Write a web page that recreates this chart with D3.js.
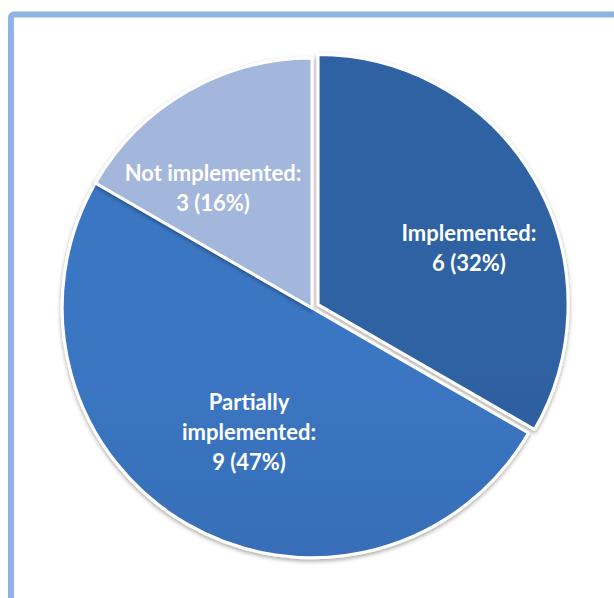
<!DOCTYPE html>
<html>
<head>
<meta charset="utf-8">
<script src="https://cdn.jsdelivr.net/npm/d3@7"></script>
<style>
  html, body { margin: 0; padding: 0; background: #ffffff; }
  svg { display: block; }
</style>
</head>
<body>
<svg id="chart" width="614" height="598"></svg>
<script>
// Implementation status of the recommendations
const categories = ["Implemented", "Partially implemented", "Not implemented"];
const counts = [6, 9, 3];
const percentLabels = ["32%", "47%", "16%"];
const labelLines = [["Implemented:"], ["Partially", "implemented:"], ["Not implemented:"]];

const svg = d3.select("#chart");

// Light blue frame around the chart area (runs off the right and bottom edges)
svg.append("rect")
  .attr("x", 11).attr("y", 14.5)
  .attr("width", 800).attr("height", 800)
  .attr("rx", 3)
  .attr("fill", "#ffffff")
  .attr("stroke", "#8fb4e3")
  .attr("stroke-width", 6);

const cx = 312, cy = 308, radius = 250;
const explode = { "Implemented": 7 };

const defs = svg.append("defs");
const shadow = defs.append("filter").attr("id", "sliceShadow")
  .attr("x", "-20%").attr("y", "-20%").attr("width", "140%").attr("height", "140%");
shadow.append("feDropShadow")
  .attr("dx", 0).attr("dy", 2).attr("stdDeviation", 2.2)
  .attr("flood-color", "#000").attr("flood-opacity", 0.35);

// Vertical shading for each slice
const gradStops = {
  "Implemented": ["#2f62a3", "#26518a"],
  "Partially implemented": ["#3b76c3", "#3161a3"],
  "Not implemented": ["#a3b6db", "#8494b6"]
};
const color = d3.scaleOrdinal().domain(categories)
  .range(categories.map((c, i) => "url(#grad" + i + ")"));
categories.forEach((c, i) => {
  const g = defs.append("linearGradient").attr("id", "grad" + i)
    .attr("gradientUnits", "userSpaceOnUse")
    .attr("x1", 0).attr("x2", 0)
    .attr("y1", cy - radius).attr("y2", cy + radius);
  g.append("stop").attr("offset", "0%").attr("stop-color", gradStops[c][0]);
  g.append("stop").attr("offset", "100%").attr("stop-color", gradStops[c][1]);
});

const data = categories.map((c, i) => ({ category: c, value: counts[i], pct: percentLabels[i], lines: labelLines[i] }));

const pie = d3.pie().sort(null).value(d => d.value);
const arcs = pie(data);
const arc = d3.arc().innerRadius(0).outerRadius(radius);
const labelArc = d3.arc().innerRadius(radius * 0.6).outerRadius(radius * 0.6);

function offsetOf(d) {
  const k = explode[d.data.category] || 0;
  const mid = (d.startAngle + d.endAngle) / 2;
  return [Math.sin(mid) * k, -Math.cos(mid) * k];
}

const pieG = svg.append("g").attr("transform", `translate(${cx},${cy})`);

pieG.selectAll("path.slice")
  .data(arcs)
  .join("path")
  .attr("class", "slice")
  .attr("transform", d => { const o = offsetOf(d); return `translate(${o[0]},${o[1]})`; })
  .attr("d", arc)
  .attr("fill", d => color(d.data.category))
  .attr("stroke", "#ffffff")
  .attr("stroke-width", 3)
  .attr("stroke-linejoin", "round")
  .attr("filter", "url(#sliceShadow)");

// Label placement adjustments within each slice
const labelNudge = {
  "Implemented": [21, 19],
  "Partially implemented": [12, -5],
  "Not implemented": [-24, 11]
};
const lineH = 30;

const labels = pieG.selectAll("text.label")
  .data(arcs)
  .join("text")
  .attr("class", "label")
  .attr("text-anchor", "middle")
  .attr("fill", "#ffffff")
  .attr("font-family", "Lato, 'Open Sans', sans-serif")
  .attr("font-weight", "bold")
  .attr("font-size", 22);

labels.each(function(d) {
  const c = labelArc.centroid(d);
  const o = offsetOf(d);
  const n = labelNudge[d.data.category];
  const x = c[0] + o[0] + n[0];
  const y = c[1] + o[1] + n[1];
  const lines = d.data.lines.concat([d.data.value + " (" + d.data.pct + ")"]);
  const t = d3.select(this);
  lines.forEach((ln, i) => {
    t.append("tspan")
      .attr("x", x)
      .attr("y", y + (i - (lines.length - 1) / 2) * lineH + 7)
      .text(ln);
  });
});
</script>
</body>
</html>
